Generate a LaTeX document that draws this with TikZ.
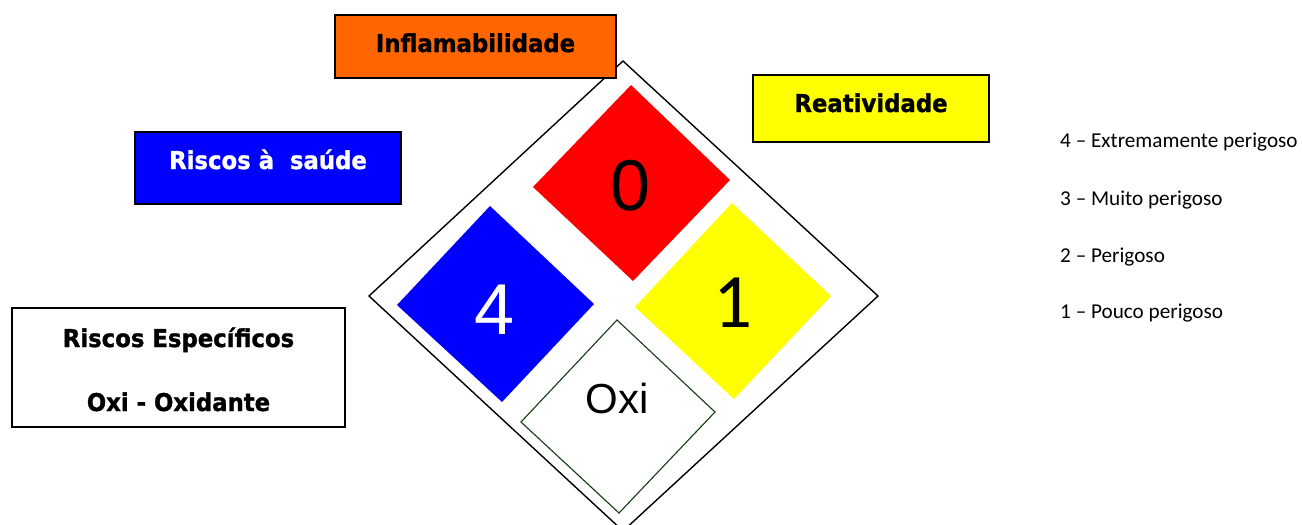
\documentclass[tikz,border=0pt]{standalone}
\usepackage{fontspec}
\setmainfont{Liberation Sans}
\newfontfamily\heavyfont[FakeStretch=0.93,FakeBold=1.2]{DejaVu Sans}
\newfontfamily\calfont{Carlito}
\definecolor{nfpaorange}{RGB}{255,102,0}
\definecolor{nfpayellow}{RGB}{255,255,0}
\definecolor{nfpablue}{RGB}{0,0,255}
\definecolor{nfpared}{RGB}{255,0,0}
\definecolor{oxigreen}{RGB}{20,60,20}
\tikzset{
  labelbox/.style={draw=black, line width=1.6pt, inner sep=0pt},
  labeltext/.style={font=\heavyfont\bfseries\fontsize{24.5}{28}\selectfont, anchor=base, inner sep=0pt},
  bignum/.style={font=\fontsize{72}{80}\selectfont, anchor=base, inner sep=0pt},
  legend/.style={font=\calfont\fontsize{21.2}{25}\selectfont, anchor=base west, inner sep=0pt}
}
\begin{document}
\begin{tikzpicture}[x=1pt,y=-1pt]
\useasboundingbox (0,0) rectangle (1302,525);
% outer diamond
\begin{scope}
\clip (0,0) rectangle (1302,525);
\draw[line width=1.4pt] (623,61) -- (878,296) -- (623,531) -- (369,296) -- cycle;
\end{scope}
% coloured diamonds
\fill[nfpared] (631,85) -- (730,180) -- (633,281) -- (533,187) -- cycle;
\fill[nfpablue] (490,206) -- (594,304) -- (502,402) -- (397,305) -- cycle;
\fill[nfpayellow] (732,203) -- (831,296) -- (734,399) -- (635,307) -- cycle;
\draw[oxigreen, line width=1.1pt, fill=white] (617,320) -- (715,412) -- (619,513) -- (521,422) -- cycle;
% numbers
\node[bignum] (flam) at (631,210) {0};
\node[bignum, text=white] (health) at (495,334) {4};
\node[bignum, font=\calfont\fontsize{77}{85}\selectfont] (react) at (733,327) {1};
\node[bignum, font=\fontsize{42}{48}\selectfont] (spec) at (617,413) {Oxi};
% label boxes
\node[labelbox, fill=nfpaorange, minimum width=281pt, minimum height=63pt] (inflbox) at (475.5,46.5) {};
\node[labeltext] (infl) at (475.5,52) {Inflamabilidade};
\node[labelbox, fill=nfpayellow, minimum width=236pt, minimum height=67pt] (reatbox) at (871,108.5) {};
\node[labeltext] (reat) at (871,112) {Reatividade};
\node[labelbox, fill=nfpablue, minimum width=266pt, minimum height=72pt] (saudebox) at (268,168) {};
\node[labeltext, text=white] (saude) at (268,169) {Riscos à\ \ saúde};
\node[labelbox, fill=white, minimum width=333pt, minimum height=119pt] (espbox) at (178.5,367.5) {};
\node[labeltext] (esp1) at (178.5,347) {Riscos Específicos};
\node[labeltext] (esp2) at (178.5,411) {Oxi - Oxidante};
% legend
\node[legend] (l4) at (1060,147) {4 – Extremamente perigoso};
\node[legend] (l3) at (1060,205) {3 – Muito perigoso};
\node[legend] (l2) at (1060,262) {2 – Perigoso};
\node[legend] (l1) at (1060,318) {1 – Pouco perigoso};
\end{tikzpicture}
\end{document}
